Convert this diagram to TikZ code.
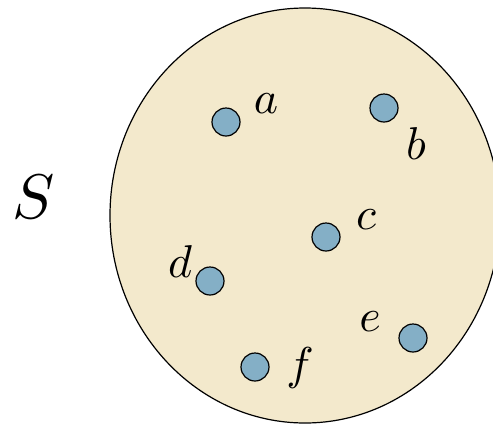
\documentclass[tikz,border=0pt]{standalone}
\usetikzlibrary{shapes.geometric}
\definecolor{setfill}{HTML}{F3E9CC}
\definecolor{dotfill}{HTML}{84AFC6}
\tikzset{
  elem/.style={circle,draw=black,line width=1.2pt,fill=dotfill,minimum size=28pt,inner sep=0pt},
  lbl/.style={scale=4.6,inner sep=0pt},
}
\begin{document}
\begin{tikzpicture}[x=1pt,y=1pt]
\useasboundingbox (0,0) rectangle (493,-424);
\begin{scope}
\clip (0,0) rectangle (493,-424);
\node[ellipse,draw=black,line width=1.2pt,fill=setfill,minimum width=390pt,minimum height=415pt,inner sep=0pt] (S) at (305,-215.5) {};
\end{scope}
\node[scale=6.3,inner sep=0pt] (lS) at (34,-197) {$S$};
\node[elem] (a) at (226,-122) {};
\node[elem] (b) at (384,-108) {};
\node[elem] (c) at (326,-237) {};
\node[elem] (d) at (210,-281) {};
\node[elem] (e) at (413,-338) {};
\node[elem] (f) at (255,-367) {};
\node[lbl] (la) at (266,-104) {$a$};
\node[lbl] (lb) at (416,-144) {$b$};
\node[lbl] (lc) at (366,-220) {$c$};
\node[lbl] (ld) at (180,-262) {$d$};
\node[lbl] (le) at (370,-322) {$e$};
\node[lbl] (lf) at (300,-368) {$f$};
\end{tikzpicture}
\end{document}
